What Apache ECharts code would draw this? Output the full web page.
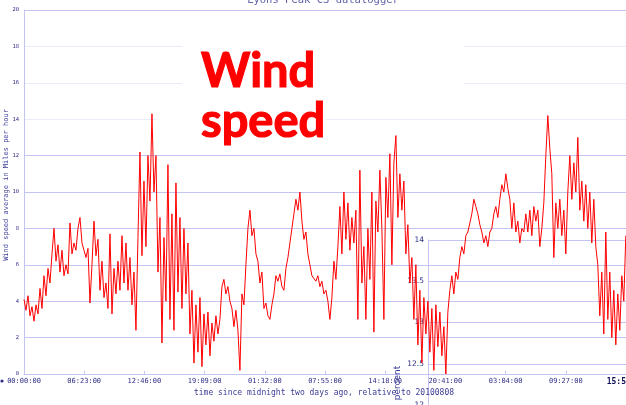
<!DOCTYPE html>
<html>
<head>
<meta charset="utf-8">
<script src="https://cdn.jsdelivr.net/npm/echarts@6/dist/echarts.min.js"></script>
<style>html,body{margin:0;padding:0;background:#fff}#c{width:626px;height:405px}</style>
</head>
<body>
<div id="c"></div>
<script>
// Tick labels on the time axis (every 383 minutes)
const TIME_LABELS = ['00:00:00','06:23:00','12:46:00','19:09:00','01:32:00','07:55:00','14:18:00','20:41:00','03:04:00','09:27:00','15:50:00'];
const TICK_MINUTES = 383;
const AXIS_MAX_MIN = 3830;
// Sampling interval of the series (minutes)
const SAMPLE_MIN = 12.72;
// Wind speed average in miles per hour
const WIND_SPEED = [
4.1,3.5,4.3,3.2,3.7,2.9,3.8,3.3,4.7,3.6,
5.4,4.3,5.8,5.0,6.6,8.0,6.2,7.1,5.6,6.8,
5.4,6.0,5.5,8.3,6.6,7.2,6.8,8.0,8.6,7.2,
6.8,6.4,6.9,3.9,6.0,8.4,6.5,7.4,4.6,6.2,
4.2,5.0,3.6,7.7,3.3,5.8,4.4,6.2,4.6,7.6,
5.0,7.2,4.6,6.4,3.8,5.6,2.4,7.5,12.2,6.5,
10.6,7.0,12.0,9.5,14.3,10.0,12.0,5.6,8.6,1.7,
7.5,4.0,11.5,3.0,8.8,2.4,10.5,4.5,8.6,3.6,
8.0,4.4,7.2,2.2,4.6,0.6,3.8,1.2,4.2,0.4,
3.3,1.6,3.4,1.0,2.8,1.8,3.2,2.2,3.0,4.8,
5.2,4.4,4.8,4.0,3.6,2.6,3.5,2.4,0.2,4.4,
3.8,6.0,8.0,9.0,7.6,8.0,6.6,6.2,5.0,5.6,
3.6,3.9,3.2,3.0,3.8,4.4,5.4,5.1,5.5,4.8,
4.6,5.8,6.4,7.2,8.0,8.8,9.6,9.0,10.0,8.4,
7.4,7.8,6.6,6.0,5.4,5.3,5.1,5.4,4.8,5.1,
4.4,4.6,4.0,3.0,4.2,6.2,5.2,7.0,9.2,6.6,
10.0,7.4,9.4,6.8,8.6,7.2,9.0,3.0,11.2,5.0,
7.0,3.0,8.0,5.2,10.0,2.3,9.5,7.8,11.2,8.0,
3.0,10.8,8.6,12.1,6.0,11.6,13.1,8.6,11.0,9.0,
10.6,6.6,8.2,5.0,6.4,3.0,6.0,1.6,4.6,0.6,
4.2,2.2,4.0,1.2,3.6,0.2,3.8,1.5,3.4,1.0,
2.6,0.0,3.4,4.6,5.4,4.4,5.6,5.2,6.4,7.0,
6.6,7.6,7.8,8.3,8.8,9.6,9.2,8.8,8.2,7.8,
7.2,7.6,7.0,7.8,8.0,8.8,9.2,8.6,9.6,10.4,
10.0,11.0,10.2,9.6,8.0,9.4,7.8,8.4,7.2,8.0,
7.8,8.8,7.8,9.0,7.6,9.2,8.4,9.0,7.0,8.0,
9.4,12.0,14.2,12.4,11.0,6.4,9.4,8.0,9.6,7.6,
9.0,6.6,10.0,12.0,9.6,11.6,10.0,13.0,9.0,10.6,
8.4,10.4,8.0,10.0,7.2,9.6,7.0,6.0,3.2,5.6,
2.2,7.8,3.0,5.6,2.0,4.6,1.6,4.4,2.4,5.4,
4.0,7.6
];
// Overlaid second panel's axis labels
const INSET_TICKS = ['12','12.5','13','13.5','14'];

const GRID = '#c4c4f2';
const PALE = '#ebebfb';
const NAVY = '#2e2e88';

const seriesData = WIND_SPEED.map((v, i) => [i * SAMPLE_MIN, v]);

const chart = echarts.init(document.getElementById('c'), null, {renderer: 'canvas'});
chart.setOption({
  animation: false,
  backgroundColor: '#fff',
  grid: [
    {left: 24, right: 0, top: 10, bottom: 31, outerBoundsMode: 'none', containLabel: false},
    {left: 428, right: 0, top: 240, bottom: 0, outerBoundsMode: 'none', containLabel: false}
  ],
  xAxis: [{
    type: 'value', gridIndex: 0, min: 0, max: AXIS_MAX_MIN, interval: TICK_MINUTES,
    axisLine: {show: true, lineStyle: {color: GRID, width: 1}},
    axisTick: {show: true, inside: true, length: 3, lineStyle: {color: GRID}},
    splitLine: {show: false},
    axisLabel: {
      margin: 4, fontFamily: 'DejaVu Sans Mono', fontSize: 7, color: NAVY,
      alignMinLabel: 'center', alignMaxLabel: 'center', hideOverlap: false,
      formatter: (val) => {
        const idx = Math.round(val / TICK_MINUTES);
        const t = TIME_LABELS[idx] || '';
        return idx === TIME_LABELS.length - 1 ? '{b|' + t + '}' : t;
      },
      rich: {b: {fontWeight: 'bold', fontFamily: 'DejaVu Sans Mono', fontSize: 8, color: '#111155'}}
    }
  }, {
    type: 'value', gridIndex: 1, min: 0, max: 1, show: false
  }],
  yAxis: [{
    type: 'value', gridIndex: 0, min: 0, max: 20, interval: 2,
    axisLine: {show: true, lineStyle: {color: GRID, width: 1}},
    axisTick: {show: false},
    splitLine: {show: true, lineStyle: {color: [GRID,GRID,GRID,GRID,GRID,GRID,GRID,PALE,PALE,PALE,GRID], width: 1}},
    axisLabel: {margin: 5, fontFamily: 'DejaVu Sans Mono', fontSize: 5.5, color: NAVY}
  }, {
    type: 'value', gridIndex: 1, min: 12, max: 14, interval: 0.5,
    axisLine: {show: true, lineStyle: {color: GRID, width: 1}},
    axisTick: {show: false},
    splitLine: {show: true, lineStyle: {color: GRID, width: 1}},
    axisLabel: {margin: 4, fontFamily: 'DejaVu Sans', fontSize: 7.5, color: NAVY,
      formatter: (val) => INSET_TICKS[Math.round((val - 12) * 2)]}
  }],
  series: [{
    type: 'line', xAxisIndex: 0, yAxisIndex: 0, data: seriesData,
    showSymbol: false, symbol: 'none', z: 5,
    lineStyle: {color: '#ff0000', width: 1},
    clip: true
  }, {
    type: 'line', xAxisIndex: 1, yAxisIndex: 1, data: [], showSymbol: false
  }],
  graphic: [
    {type: 'rect', z: 1, shape: {x: 182, y: 25, width: 282, height: 75}, style: {fill: '#fff'}},
    {type: 'rect', z: 1, shape: {x: 156, y: 100, width: 170, height: 40}, style: {fill: '#fff'}},
    {type: 'text', z: 20, x: 201, y: 48, style: {text: 'Wind', fontFamily: 'Lato', fontWeight: 'bold', fontSize: 47, fill: '#ff0000', align: 'left', verticalAlign: 'top', stroke: '#ff0000', lineWidth: 1.2}},
    {type: 'text', z: 20, x: 201, y: 98, style: {text: 'speed', fontFamily: 'Lato', fontWeight: 'bold', fontSize: 47, fill: '#ff0000', align: 'left', verticalAlign: 'top', stroke: '#ff0000', lineWidth: 1.2}},
    {type: 'text', z: 20, x: 323, y: 0, style: {text: 'Lyons Peak CS datalogger', fontFamily: 'DejaVu Sans Mono', fontSize: 10.5, fill: '#6262a8', align: 'center', verticalAlign: 'middle'}},
    {type: 'text', z: 20, x: 324, y: 393, style: {text: 'time since midnight two days ago, relative to 20100808', fontFamily: 'DejaVu Sans Mono', fontSize: 8, fill: '#3c3c98', align: 'center', verticalAlign: 'middle'}},
    {type: 'text', z: 20, x: 6, y: 185, rotation: Math.PI / 2, style: {text: 'Wind speed average in Miles per hour', fontFamily: 'DejaVu Sans Mono', fontSize: 7, fill: '#3c3c98', align: 'center', verticalAlign: 'middle'}},
    {type: 'text', z: 20, x: 398, y: 383, rotation: Math.PI / 2, style: {text: 'percent', fontFamily: 'DejaVu Sans', fontSize: 9, fill: '#3c3c98', align: 'center', verticalAlign: 'middle'}},
    {type: 'circle', z: 20, shape: {cx: 2, cy: 381, r: 1.6}, style: {fill: NAVY}}
  ]
});
</script>
</body>
</html>
